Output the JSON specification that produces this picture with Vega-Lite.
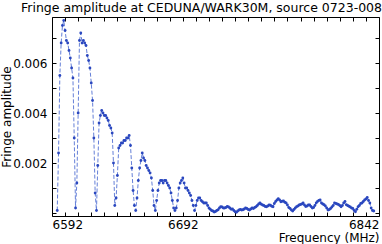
{
"$schema": "https://vega.github.io/schema/vega-lite/v6.json",
"width": 327, "height": 199,
"autosize": "none",
"padding": {"left": 52, "top": 17, "right": 3, "bottom": 28},
"background": "white",
"config": {"view": {"stroke": "black", "strokeWidth": 1}, "font": "DejaVu Sans"},
"title": {"text": "Fringe amplitude at CEDUNA/WARK30M, source 0723-008", "font": "DejaVu Sans", "fontSize": 12.5, "fontWeight": "normal", "color": "black", "offset": 2, "dx": -14},
"data": {"values": [
{"f":6596,"a":0.0001},{"f":6597,"a":0.0024},{"f":6598,"a":0.0055},{"f":6599,"a":0.0068},{"f":6600,"a":0.0075},{"f":6601,"a":0.0077},{"f":6602,"a":0.0073},{"f":6603,"a":0.0069},{"f":6604,"a":0.0068},{"f":6605,"a":0.0065},{"f":6606,"a":0.0062},{"f":6607,"a":0.0058},{"f":6608,"a":0.0054},{"f":6609,"a":0.0030},{"f":6610,"a":0.0002},
{"f":6611,"a":0.0012},{"f":6612,"a":0.0040},{"f":6613,"a":0.0069},{"f":6614,"a":0.0072},{"f":6615,"a":0.0068},{"f":6616,"a":0.0069},{"f":6617,"a":0.0068},{"f":6618,"a":0.0067},{"f":6619,"a":0.0063},{"f":6620,"a":0.0061},{"f":6621,"a":0.0058},{"f":6622,"a":0.0052},{"f":6623,"a":0.0045},{"f":6624,"a":0.0030},{"f":6625,"a":0.0008},{"f":6626,"a":0.0001},
{"f":6627,"a":0.0019},{"f":6628,"a":0.0036},{"f":6629,"a":0.0039},{"f":6630,"a":0.0041},{"f":6631,"a":0.0040},{"f":6632,"a":0.0039},{"f":6633,"a":0.0039},{"f":6634,"a":0.0038},{"f":6635,"a":0.0037},{"f":6636,"a":0.0035},{"f":6637,"a":0.0034},{"f":6638,"a":0.0032},{"f":6639,"a":0.0020},{"f":6640,"a":0.0003},
{"f":6641,"a":0.0006},{"f":6642,"a":0.0015},{"f":6643,"a":0.0026},{"f":6644,"a":0.0027},{"f":6645,"a":0.0028},{"f":6646,"a":0.0028},{"f":6647,"a":0.0029},{"f":6648,"a":0.0029},{"f":6649,"a":0.0030},{"f":6650,"a":0.0030},{"f":6651,"a":0.0031},{"f":6652,"a":0.0027},{"f":6653,"a":0.0018},{"f":6654,"a":0.0009},{"f":6655,"a":0.0003},{"f":6656,"a":0.0001},
{"f":6657,"a":0.0006},{"f":6658,"a":0.0013},{"f":6659,"a":0.0018},{"f":6660,"a":0.0021},{"f":6661,"a":0.0024},{"f":6662,"a":0.0022},{"f":6663,"a":0.0021},{"f":6664,"a":0.0019},{"f":6665,"a":0.0018},{"f":6666,"a":0.0017},{"f":6667,"a":0.0016},{"f":6668,"a":0.0014},{"f":6669,"a":0.0009},{"f":6670,"a":0.0003},{"f":6671,"a":0.0001},
{"f":6672,"a":0.0005},{"f":6673,"a":0.0009},{"f":6674,"a":0.0012},{"f":6675,"a":0.0013},{"f":6676,"a":0.0013},{"f":6677,"a":0.0012},{"f":6678,"a":0.0013},{"f":6679,"a":0.0013},{"f":6680,"a":0.0012},{"f":6681,"a":0.0011},{"f":6682,"a":0.0010},{"f":6683,"a":0.0008},{"f":6684,"a":0.0005},{"f":6685,"a":0.0002},{"f":6686,"a":0.0001},
{"f":6687,"a":0.0002},{"f":6688,"a":0.0005},{"f":6689,"a":0.0010},{"f":6690,"a":0.0012},{"f":6691,"a":0.0013},{"f":6692,"a":0.0014},{"f":6693,"a":0.0012},{"f":6694,"a":0.0010},{"f":6695,"a":0.0010},{"f":6696,"a":0.0009},{"f":6697,"a":0.0008},{"f":6698,"a":0.0007},{"f":6699,"a":0.0005},{"f":6700,"a":0.0003},{"f":6701,"a":0.0001},
{"f":6702,"a":0.0003},{"f":6703,"a":0.0005},{"f":6704,"a":0.0006},{"f":6705,"a":0.0006},{"f":6706,"a":0.0005},{"f":6707,"a":0.00045},{"f":6708,"a":0.0004},{"f":6709,"a":0.0004},{"f":6710,"a":0.0004},{"f":6711,"a":0.0003},{"f":6712,"a":0.0002},{"f":6713,"a":0.00015},{"f":6714,"a":0.0001},{"f":6715,"a":0.00008},{"f":6716,"a":0.00004},{"f":6717,"a":0.00006},{"f":6718,"a":0.0001},{"f":6719,"a":0.00013},{"f":6720,"a":0.0002},
{"f":6721,"a":0.00025},{"f":6722,"a":0.00024},{"f":6723,"a":0.0002},{"f":6724,"a":0.0002},{"f":6725,"a":0.00022},{"f":6726,"a":0.00026},{"f":6727,"a":0.00024},{"f":6728,"a":0.0002},{"f":6729,"a":0.00015},{"f":6730,"a":0.00016},{"f":6731,"a":0.0001},{"f":6732,"a":0.00005},{"f":6733,"a":0.00003},{"f":6734,"a":0.00008},{"f":6735,"a":0.00012},{"f":6736,"a":0.00014},{"f":6737,"a":0.00012},{"f":6738,"a":0.00013},{"f":6739,"a":0.00016},{"f":6740,"a":0.0002},
{"f":6741,"a":0.00018},{"f":6742,"a":0.00014},{"f":6743,"a":0.00012},{"f":6744,"a":0.00016},{"f":6745,"a":0.0002},{"f":6746,"a":0.00018},{"f":6747,"a":0.00022},{"f":6748,"a":0.00025},{"f":6749,"a":0.0003},{"f":6750,"a":0.00036},{"f":6751,"a":0.0004},{"f":6752,"a":0.00035},{"f":6753,"a":0.00032},{"f":6754,"a":0.0003},{"f":6755,"a":0.00026},{"f":6756,"a":0.00025},{"f":6757,"a":0.00028},{"f":6758,"a":0.00032},{"f":6759,"a":0.00031},{"f":6760,"a":0.00027},
{"f":6761,"a":0.00025},{"f":6762,"a":0.00038},{"f":6763,"a":0.00046},{"f":6764,"a":0.00052},{"f":6765,"a":0.00057},{"f":6766,"a":0.00052},{"f":6767,"a":0.00045},{"f":6768,"a":0.00047},{"f":6769,"a":0.00048},{"f":6770,"a":0.00043},{"f":6771,"a":0.0004},{"f":6772,"a":0.00032},{"f":6773,"a":0.00022},{"f":6774,"a":0.00018},{"f":6775,"a":0.00012},{"f":6776,"a":0.00008},{"f":6777,"a":0.00014},{"f":6778,"a":0.0002},{"f":6779,"a":0.00025},{"f":6780,"a":0.00028},
{"f":6781,"a":0.00032},{"f":6782,"a":0.00034},{"f":6783,"a":0.00036},{"f":6784,"a":0.0004},{"f":6785,"a":0.00032},{"f":6786,"a":0.00026},{"f":6787,"a":0.00028},{"f":6788,"a":0.00032},{"f":6789,"a":0.00032},{"f":6790,"a":0.00026},{"f":6791,"a":0.0002},{"f":6792,"a":0.00022},{"f":6793,"a":0.0003},{"f":6794,"a":0.0004},{"f":6795,"a":0.00046},{"f":6796,"a":0.0005},{"f":6797,"a":0.00052},{"f":6798,"a":0.0004},{"f":6799,"a":0.00036},{"f":6800,"a":0.00033},
{"f":6801,"a":0.00028},{"f":6802,"a":0.0002},{"f":6803,"a":0.00012},{"f":6804,"a":0.00014},{"f":6805,"a":0.00018},{"f":6806,"a":0.00024},{"f":6807,"a":0.0003},{"f":6808,"a":0.0004},{"f":6809,"a":0.00038},{"f":6810,"a":0.00036},{"f":6811,"a":0.00034},{"f":6812,"a":0.0003},{"f":6813,"a":0.00025},{"f":6814,"a":0.0003},{"f":6815,"a":0.0004},{"f":6816,"a":0.00046},{"f":6817,"a":0.00033},{"f":6818,"a":0.0003},{"f":6819,"a":0.00027},{"f":6820,"a":0.00024},
{"f":6821,"a":0.0002},{"f":6822,"a":0.00018},{"f":6823,"a":0.0001},{"f":6824,"a":0.00005},{"f":6825,"a":0.00015},{"f":6826,"a":0.00025},{"f":6827,"a":0.0003},{"f":6828,"a":0.00038},{"f":6829,"a":0.0004},{"f":6830,"a":0.00046},{"f":6831,"a":0.00052},{"f":6832,"a":0.00056},{"f":6833,"a":0.00062},{"f":6834,"a":0.0005},{"f":6835,"a":0.0004},{"f":6836,"a":0.0002},{"f":6837,"a":0.0001},{"f":6838,"a":0.00008}
]},
"layer": [
{"mark": {"type": "line", "color": "#6580d8", "strokeWidth": 1, "strokeDash": [4, 2]},
 "encoding": {
  "x": {"field": "f", "type": "quantitative", "scale": {"domain": [6592, 6842], "nice": false, "zero": false},
   "axis": {"orient": "bottom", "values": [6592,6602,6612,6622,6632,6642,6652,6662,6672,6682,6692,6702,6712,6722,6732,6742,6752,6762,6772,6782,6792,6802,6812,6822,6832,6842],
    "format": "d", "labelExpr": "datum.value == 6592 || datum.value == 6692 || datum.value == 6842 ? datum.label : ''",
    "labelFlush": true, "labelOverlap": false, "tickSize": -4, "tickColor": "black", "labelPadding": 7, "domain": false, "grid": false,
    "labelFont": "DejaVu Sans", "labelFontSize": 12, "labelColor": "black",
    "title": "Frequency (MHz)", "titleAnchor": "end", "titleFont": "DejaVu Sans", "titleFontSize": 12, "titleFontWeight": "normal", "titleColor": "black", "titlePadding": 2}},
  "y": {"field": "a", "type": "quantitative", "scale": {"domain": [-0.00012, 0.00784], "nice": false, "zero": false},
   "axis": {"orient": "left", "values": [0, 0.001, 0.002, 0.003, 0.004, 0.005, 0.006, 0.007], "format": ".3f",
    "labelExpr": "indexof(['0.002','0.004','0.006'], datum.label) >= 0 ? datum.label : ''",
    "labelOverlap": false, "tickSize": -4, "tickColor": "black", "labelPadding": 9, "domain": false, "grid": false,
    "labelFont": "DejaVu Sans", "labelFontSize": 12, "labelColor": "black",
    "title": "Fringe amplitude", "titleFont": "DejaVu Sans", "titleFontSize": 12, "titleFontWeight": "normal", "titleColor": "black", "titlePadding": -1}}
 }},
{"mark": {"type": "point", "filled": true, "color": "#2a47bf", "size": 8, "opacity": 1},
 "encoding": {
  "x": {"field": "f", "type": "quantitative",
   "axis": {"orient": "top", "values": [6592,6602,6612,6622,6632,6642,6652,6662,6672,6682,6692,6702,6712,6722,6732,6742,6752,6762,6772,6782,6792,6802,6812,6822,6832,6842],
    "labels": false, "tickSize": -4, "tickColor": "black", "domain": false, "grid": false, "title": null}},
  "y": {"field": "a", "type": "quantitative",
   "axis": {"orient": "right", "values": [0, 0.001, 0.002, 0.003, 0.004, 0.005, 0.006, 0.007],
    "labels": false, "tickSize": -4, "tickColor": "black", "domain": false, "grid": false, "title": null}}
 }}
]
}
